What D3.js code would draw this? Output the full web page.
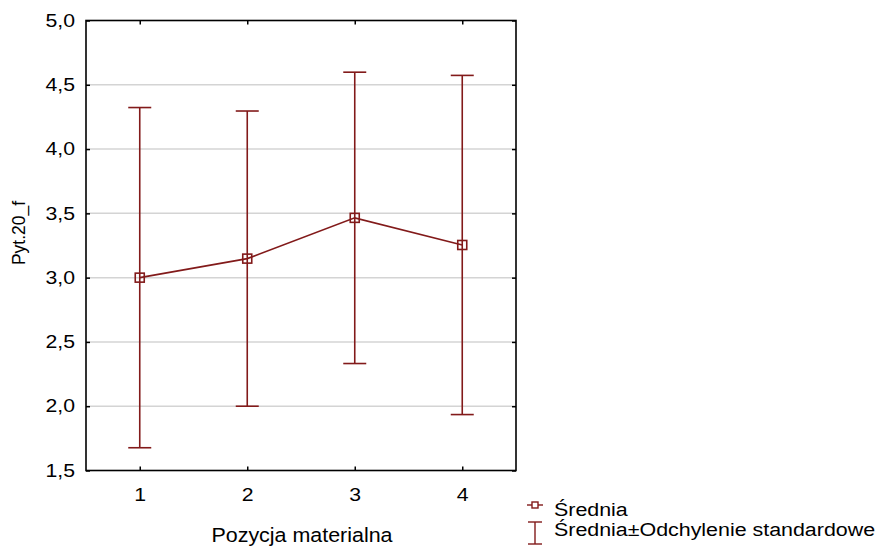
<!DOCTYPE html>
<html>
<head>
<meta charset="utf-8">
<script src="https://cdn.jsdelivr.net/npm/d3@7"></script>
<style>
html,body{margin:0;padding:0;background:#fff;}
svg{display:block;}
text{font-family:"Liberation Sans",Arial,sans-serif;fill:#000;}
</style>
</head>
<body>
<svg id="chart" width="882" height="547"></svg>
<script>
const categories = ["1", "2", "3", "4"];
const means = [3.0, 3.148, 3.465, 3.254];
const sds = [1.323, 1.148, 1.133, 1.319];
const yTicks = [1.5, 2.0, 2.5, 3.0, 3.5, 4.0, 4.5, 5.0];
const xTitle = "Pozycja materialna";
const yTitle = "Pyt.20_f";
const legendLabels = ["Średnia", "Średnia±Odchylenie standardowe"];

const color = "#821a1a";
const svg = d3.select("#chart");
const L = 86, R = 516, T = 20.5, B = 470.5;
const sx = 1.18;

const x = d3.scalePoint().domain(categories).range([L, R]).padding(0.5);
const y = d3.scaleLinear().domain([1.5, 5]).range([B, T]);
const fmt = d => d3.format(".1f")(d).replace(".", ",");

// gridlines
svg.append("g").selectAll("line").data(yTicks.slice(1, -1)).join("line")
  .attr("x1", L).attr("x2", R).attr("y1", d => y(d)).attr("y2", d => y(d))
  .attr("stroke", "#d4d4d4").attr("stroke-width", 1.5);

// axes with inward ticks
const axL = svg.append("g").attr("transform", `translate(${L},0)`)
  .call(d3.axisLeft(y).tickValues(yTicks).tickSize(-4).tickPadding(15).tickFormat(fmt));
const axR = svg.append("g").attr("transform", `translate(${R},0)`)
  .call(d3.axisRight(y).tickValues(yTicks).tickSize(-4).tickFormat(""));
const axB = svg.append("g").attr("transform", `translate(0,${B})`)
  .call(d3.axisBottom(x).tickSize(-4).tickPadding(18));
const axT = svg.append("g").attr("transform", `translate(0,${T})`)
  .call(d3.axisTop(x).tickSize(-4).tickFormat(""));
[axL, axR, axB, axT].forEach(a => {
  a.select(".domain").remove();
  a.selectAll(".tick line").attr("stroke", "#000").attr("stroke-width", 1.5);
});
axL.selectAll(".tick text").attr("font-size", 18).attr("fill", "#000")
  .attr("x", -11 / sx).attr("transform", `scale(${sx},1)`)
  .style("font-family", '"Liberation Sans",Arial,sans-serif');
axB.selectAll(".tick text").attr("font-size", 18).attr("fill", "#000")
  .attr("transform", `scale(${sx},1)`)
  .style("font-family", '"Liberation Sans",Arial,sans-serif');

// frame
svg.append("rect").attr("x", L).attr("y", T).attr("width", R - L).attr("height", B - T)
  .attr("fill", "none").attr("stroke", "#000").attr("stroke-width", 1.6);

const data = categories.map((c, i) => ({c, m: means[i], sd: sds[i]}));
const cap = 11.5;

// error bars
const eb = svg.append("g").attr("stroke", color).attr("stroke-width", 1.6).attr("fill", "none");
eb.selectAll(".v").data(data).join("line")
  .attr("x1", d => x(d.c)).attr("x2", d => x(d.c))
  .attr("y1", d => y(d.m + d.sd)).attr("y2", d => y(d.m - d.sd));
eb.selectAll(".t").data(data).join("line")
  .attr("x1", d => x(d.c) - cap).attr("x2", d => x(d.c) + cap)
  .attr("y1", d => y(d.m + d.sd)).attr("y2", d => y(d.m + d.sd));
eb.selectAll(".b").data(data).join("line")
  .attr("x1", d => x(d.c) - cap).attr("x2", d => x(d.c) + cap)
  .attr("y1", d => y(d.m - d.sd)).attr("y2", d => y(d.m - d.sd));

// mean line
svg.append("path").datum(data)
  .attr("d", d3.line().x(d => x(d.c)).y(d => y(d.m)))
  .attr("fill", "none").attr("stroke", color).attr("stroke-width", 1.6);

// markers
const ms = 9;
svg.append("g").selectAll("rect").data(data).join("rect")
  .attr("x", d => x(d.c) - ms / 2).attr("y", d => y(d.m) - ms / 2)
  .attr("width", ms).attr("height", ms)
  .attr("fill", "none").attr("stroke", color).attr("stroke-width", 1.6);

// titles
svg.append("text").attr("transform", "translate(302,542) scale(1.1,1)")
  .attr("text-anchor", "middle").attr("font-size", 19.5).text(xTitle);
svg.append("text").attr("transform", "translate(25,233) rotate(-90)")
  .attr("text-anchor", "middle").attr("font-size", 17.5).text(yTitle);

// legend
const lg = svg.append("g");
lg.append("line").attr("x1", 527).attr("x2", 543).attr("y1", 505).attr("y2", 505)
  .attr("stroke", color).attr("stroke-width", 1.4);
lg.append("rect").attr("x", 532).attr("y", 502).attr("width", 6).attr("height", 6)
  .attr("fill", "#fff").attr("stroke", color).attr("stroke-width", 1.4);
lg.append("line").attr("x1", 535).attr("x2", 535).attr("y1", 522).attr("y2", 544)
  .attr("stroke", color).attr("stroke-width", 1.4);
lg.append("line").attr("x1", 528).attr("x2", 542).attr("y1", 522).attr("y2", 522)
  .attr("stroke", color).attr("stroke-width", 1.4);
lg.append("line").attr("x1", 528).attr("x2", 542).attr("y1", 544).attr("y2", 544)
  .attr("stroke", color).attr("stroke-width", 1.4);
lg.selectAll("text").data(legendLabels).join("text")
  .attr("transform", (d, i) => `translate(554,${516 + i * 19.5}) scale(1.19,1)`)
  .attr("font-size", 18).text(d => d);
</script>
</body>
</html>
